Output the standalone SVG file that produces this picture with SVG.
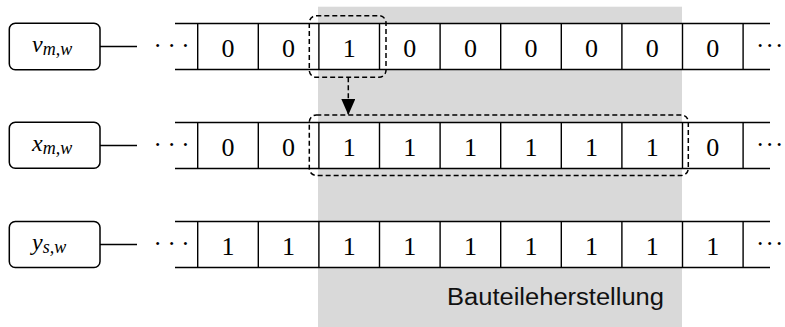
<svg xmlns="http://www.w3.org/2000/svg" width="785" height="327" viewBox="0 0 785 327">
<style>
.ln{stroke:#000;stroke-width:1.4;fill:none}
.bg{fill:#fff;stroke:none}
.box{fill:#fff;stroke:#000;stroke-width:1.5}
.dash{fill:none;stroke:#000;stroke-width:1.5;stroke-dasharray:5 3}
.dg{font-family:"Liberation Serif","Times New Roman",serif;font-size:26px;text-anchor:middle;fill:#000}
.dots{font-family:"Liberation Serif","Times New Roman",serif;font-size:25px;fill:#000;letter-spacing:5.6px}
.rdots{font-family:"Liberation Serif","Times New Roman",serif;font-size:25px;fill:#000}
.lab{font-family:"Liberation Serif","Times New Roman",serif;font-style:italic;font-size:24px;fill:#000}
.sub{font-size:18px}
.cap{font-family:"Liberation Sans",Arial,sans-serif;font-size:23.5px;fill:#111}
</style>
<defs>
<marker id="ah" markerWidth="16" markerHeight="14" refX="16" refY="7" orient="auto" markerUnits="userSpaceOnUse" viewBox="0 0 16 14">
<path d="M0,0 L16,7 L0,14 Z" fill="#000"/>
</marker>
</defs>
<rect id="region" x="318" y="6.7" width="364" height="320.3" fill="#d9d9d9"/>
<g id="row-v">
<rect x="9.3" y="23.3" width="90.7" height="46.4" rx="6" class="box"/>
<text x="32" y="51.5" class="lab">v<tspan class="sub" dy="3">m,w</tspan></text>
</g>
<g id="row-x">
<rect x="9.3" y="122.3" width="90.7" height="46" rx="6" class="box"/>
<text x="32" y="150.5" class="lab">x<tspan class="sub" dy="3">m,w</tspan></text>
</g>
<g id="row-y">
<rect x="9.3" y="221.5" width="90.7" height="46" rx="6" class="box"/>
<text x="32" y="249.5" class="lab">y<tspan class="sub" dy="3">s,w</tspan></text>
</g>
<g id="seq-v">
<rect class="bg" x="175" y="23.5" width="595" height="46"/>
<path class="ln" d="M175,23.5H770M175,69.5H770M197.7,23.5V69.5M258.3,23.5V69.5M318.9,23.5V69.5M379.5,23.5V69.5M440.1,23.5V69.5M500.7,23.5V69.5M561.3,23.5V69.5M621.9,23.5V69.5M682.5,23.5V69.5M743.1,23.5V69.5"/>
<text class="dots" x="153.5" y="53.5">···</text>
<text class="rdots" x="756 765.5 775" y="53.5">···</text>
<text class="dg" y="57.3"><tspan x="228">0</tspan><tspan x="288.6">0</tspan><tspan x="349.2">1</tspan><tspan x="409.8">0</tspan><tspan x="470.4">0</tspan><tspan x="531">0</tspan><tspan x="591.6">0</tspan><tspan x="652.2">0</tspan><tspan x="712.8">0</tspan></text>
</g>
<g id="seq-x">
<rect class="bg" x="175" y="122.5" width="595" height="46"/>
<path class="ln" d="M175,122.5H770M175,168.5H770M197.7,122.5V168.5M258.3,122.5V168.5M318.9,122.5V168.5M379.5,122.5V168.5M440.1,122.5V168.5M500.7,122.5V168.5M561.3,122.5V168.5M621.9,122.5V168.5M682.5,122.5V168.5M743.1,122.5V168.5"/>
<text class="dots" x="153.5" y="152.5">···</text>
<text class="rdots" x="756 765.5 775" y="152.5">···</text>
<text class="dg" y="156.3"><tspan x="228">0</tspan><tspan x="288.6">0</tspan><tspan x="349.2">1</tspan><tspan x="409.8">1</tspan><tspan x="470.4">1</tspan><tspan x="531">1</tspan><tspan x="591.6">1</tspan><tspan x="652.2">1</tspan><tspan x="712.8">0</tspan></text>
</g>
<g id="seq-y">
<rect class="bg" x="175" y="221.5" width="595" height="46"/>
<path class="ln" d="M175,221.5H770M175,267.5H770M197.7,221.5V267.5M258.3,221.5V267.5M318.9,221.5V267.5M379.5,221.5V267.5M440.1,221.5V267.5M500.7,221.5V267.5M561.3,221.5V267.5M621.9,221.5V267.5M682.5,221.5V267.5M743.1,221.5V267.5"/>
<text class="dots" x="153.5" y="251.5">···</text>
<text class="rdots" x="756 765.5 775" y="251.5">···</text>
<text class="dg" y="255.3"><tspan x="228">1</tspan><tspan x="288.6">1</tspan><tspan x="349.2">1</tspan><tspan x="409.8">1</tspan><tspan x="470.4">1</tspan><tspan x="531">1</tspan><tspan x="591.6">1</tspan><tspan x="652.2">1</tspan><tspan x="712.8">1</tspan></text>
</g>
<g id="sel-v"><rect x="309.3" y="15.7" width="76.7" height="61.6" rx="7" class="dash"/></g>
<g id="sel-x"><rect x="309.3" y="115" width="379" height="60.5" rx="7" class="dash"/></g>
<g id="connectors">
<line x1="100" y1="46.5" x2="137" y2="46.5" class="ln"/>
<line x1="100" y1="145.5" x2="137" y2="145.5" class="ln"/>
<line x1="100" y1="244.5" x2="137" y2="244.5" class="ln"/>
<line x1="348.3" y1="77.3" x2="348.3" y2="115" class="dash" stroke-width="2" marker-end="url(#ah)"/>
</g>
<text class="cap" x="447" y="305" textLength="217" lengthAdjust="spacingAndGlyphs">Bauteileherstellung</text>
</svg>
